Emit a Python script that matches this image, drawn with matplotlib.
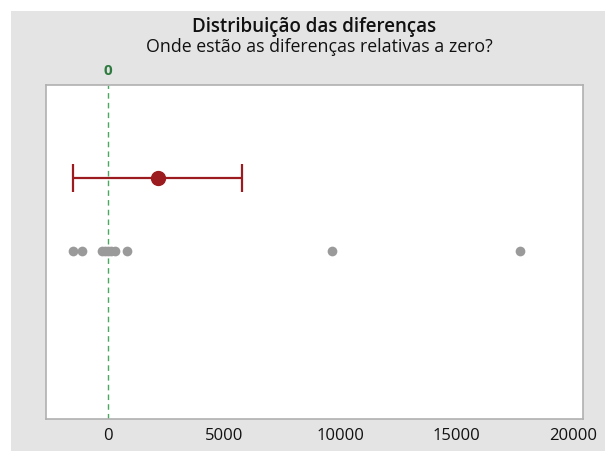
import matplotlib
matplotlib.use("Agg")
import matplotlib.pyplot as plt
from matplotlib.patches import Rectangle

# Data
differences = [-1480, -1120, -250, -120, 0, 120, 310, 810, 9630, 17700]
mean_diff = 2150
ci_low = -1480
ci_high = 5750
x_ticks = [0, 5000, 10000, 15000, 20000]
x_tick_labels = ["0", "5000", "10000", "15000", "20000"]
title = "Distribuição das diferenças"
subtitle = "Onde estão as diferenças relativas a zero?"

plt.rcParams['font.family'] = ['Open Sans', 'DejaVu Sans']

W, H = 605, 452
fig = plt.figure(figsize=(W / 100, H / 100), dpi=100)
fig.patch.set_facecolor("white")
bg = Rectangle((11 / W, 0), 1 - 11 / W, 1 - 12 / H, transform=fig.transFigure,
               facecolor="#e4e4e4", edgecolor="none", zorder=-10)
fig.patches.append(bg)

ax = fig.add_axes([45.7 / W, (H - 420) / H, (583 - 45.7) / W, (420 - 86) / H])
ax.set_facecolor("white")
ax.set_xlim(-2674, 20430)
ax.set_ylim(0, 1)

y_pts = 0.503
y_ci = 0.722

ax.axvline(0, color="#4aa860", linestyle=(0, (4, 3)), linewidth=1.0, zorder=1)

ax.plot(differences, [y_pts] * len(differences), linestyle="none", marker="o",
        markersize=7, color="#9a9a9a", markeredgewidth=0, zorder=3)

ax.errorbar([mean_diff], [y_ci], xerr=[[mean_diff - ci_low], [ci_high - mean_diff]],
            fmt="o", color="#9b1b1f", ecolor="#9b1b1f", markersize=10,
            elinewidth=1.6, capsize=10, capthick=1.6, zorder=4)

ax.set_xticks(x_ticks)
ax.set_xticklabels(x_tick_labels, fontsize=12)
ax.tick_params(axis="x", length=0, pad=6, colors="#111111")
ax.set_yticks([])
for s in ax.spines.values():
    s.set_color("#b0b0b0")
    s.set_linewidth(1.2)

# green "0" label on top
ax.text(0, 1.025, "0", transform=ax.get_xaxis_transform(), ha="center", va="bottom",
        color="#2f7a3f", fontsize=11, fontweight="bold")

fig.text(314 / W, 1 - 27 / H, title, ha="center", va="center", fontsize=13.5,
         fontweight="semibold", color="#111111")
fig.text(319 / W, 1 - 47 / H, subtitle, ha="center", va="center", fontsize=12.8,
         color="#111111")

fig.savefig("out.png", dpi=100)
